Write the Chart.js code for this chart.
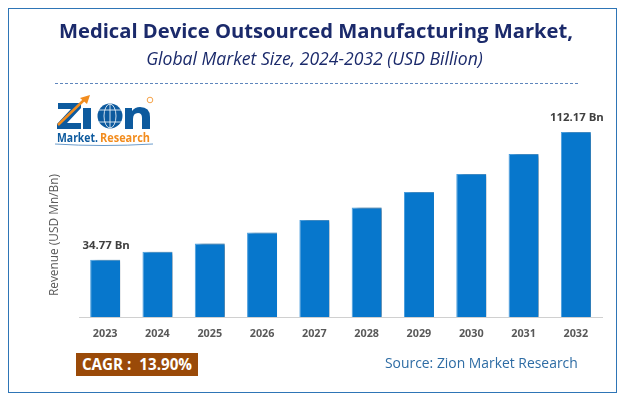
<!DOCTYPE html>
<html>
<head>
<meta charset="utf-8">
<script src="https://cdn.jsdelivr.net/npm/chart.js@4"></script>
<style>
    html, body { margin: 0; padding: 0; background: #fff; }
    #page { position: relative; width: 625px; height: 401px; overflow: hidden; font-family: "Open Sans", sans-serif; }
    #page div, #page svg { position: absolute; white-space: nowrap; }
    #myChart { position: absolute; left: 0; top: 0; }
    #frame { left: 8px; top: 8px; width: 607px; height: 383px; border: 1.5px solid #2e75b6; }
    #title { left: 0; top: 16px; width: 632px; text-align: center; font-size: 20.2px; font-weight: 700; color: #1b2a6b; }
    #subtitle { left: 0; top: 46px; width: 629px; text-align: center; font-size: 17.6px; font-style: italic; color: #1b2a6b; }
    #rule { left: 55px; top: 83px; width: 523px; border-top: 1px dashed #5f86bd; }
    #yTitle { left: 53px; top: 235px; font-size: 11.9px; color: #595959; transform: translate(-50%, -50%) rotate(-90deg); }
    #cagr { left: 76px; top: 353px; width: 122px; height: 23px; line-height: 23px; text-align: center; background: #9a4a08; color: #fff; font-size: 15.2px; font-weight: 700; }
    #source { left: 385px; top: 353px; font-size: 13.9px; color: #2e6ca4; }
</style>
</head>
<body>
<div id="page">
    <canvas id="myChart" width="625" height="401"></canvas>
    <div id="frame"></div>
    <div id="title">Medical Device Outsourced Manufacturing Market,</div>
    <div id="subtitle">Global Market Size, 2024-2032 (USD Billion)</div>
    <div id="rule"></div>
    <svg style="left:50px;top:92px" width="110" height="56" viewBox="0 0 110 56">
        <path d="M8 11H31V16L17 31H31V37H7V32L21 17H8Z" fill="#0d5a9e"/>
        <rect x="33" y="16" width="8" height="21" fill="#0d5a9e"/>
        <circle cx="60" cy="24" r="12.5" fill="#0d5a9e"/>
        <ellipse cx="60" cy="24" rx="6" ry="12" fill="none" stroke="#fff" stroke-width="0.8"/>
        <path d="M48 18H72M48 30H72M60 12V36" stroke="#fff" stroke-width="0.8"/>
        <path d="M75 37V16H82V19Q85 15 90 15Q100 15 100 25V37H92V26Q92 21 88 21Q83 21 83 27V37Z" fill="#0d5a9e"/>
        <path d="M8 33L34 8" stroke="#f28c1e" stroke-width="2.5"/>
        <path d="M40 3L37 12L30 6Z" fill="#f28c1e"/>
        <circle cx="100" cy="8" r="2.8" fill="none" stroke="#f5a34a" stroke-width="1"/>
        <text x="7" y="50" font-family="Open Sans" font-weight="700" font-size="11.5" fill="#0d5a9e" textLength="41" lengthAdjust="spacingAndGlyphs">Market.</text>
        <text x="50" y="50" font-family="Open Sans" font-weight="700" font-size="11.5" fill="#f28c1e" textLength="50" lengthAdjust="spacingAndGlyphs">Research</text>
        <path d="M5 52Q52 55 103 52" fill="none" stroke="#6b9ccb" stroke-width="1"/>
    </svg>
    <div id="yTitle">Revenue (USD Mn/Bn)</div>
    <div id="cagr">CAGR :&nbsp; 13.90%</div>
    <div id="source">Source: Zion Market Research</div>
</div>
<script>
const years = ["2023", "2024", "2025", "2026", "2027", "2028", "2029", "2030", "2031", "2032"];
const revenue = [34.77, 39.5, 44.6, 51.2, 58.8, 66.4, 75.8, 86.7, 98.8, 112.17];
const valueLabels = ["34.77 Bn", "", "", "", "", "", "", "", "", "112.17 Bn"];

// soft grey shadow on the right side of each bar
const barShadow = {
    id: "barShadow",
    beforeDatasetsDraw(chart) {
        const ctx = chart.ctx;
        ctx.save();
        ctx.shadowColor = "rgba(0, 0, 0, 0.55)";
        ctx.shadowBlur = 4;
        ctx.shadowOffsetX = 5;
        ctx.shadowOffsetY = 1;
    },
    afterDatasetsDraw(chart) {
        chart.ctx.restore();
    }
};

const barLabels = {
    id: "barLabels",
    afterDraw(chart) {
        const ctx = chart.ctx;
        const bars = chart.getDatasetMeta(0).data;
        ctx.save();
        ctx.font = "700 11.4px 'Open Sans'";
        ctx.fillStyle = "#404040";
        ctx.textAlign = "center";
        bars.forEach((bar, i) => {
            if (valueLabels[i]) {
                ctx.fillText(valueLabels[i], bar.x + 1, bar.y - 10.5);
            }
        });
        ctx.restore();
    }
};

const myChart = new Chart(document.getElementById("myChart"), {
    type: "bar",
    data: {
        labels: years,
        datasets: [{
            data: revenue,
            backgroundColor: "#0777cc",
            borderColor: "#4a9ede",
            borderWidth: { top: 1, left: 1, right: 0, bottom: 0 },
            barPercentage: 0.573,
            categoryPercentage: 1
        }]
    },
    options: {
        responsive: false,
        animation: false,
        layout: { padding: { left: 79, right: 23, top: 119, bottom: 0 } },
        plugins: { legend: { display: false }, tooltip: { enabled: false } },
        scales: {
            x: {
                afterFit(scale) { scale.height = 84; },
                grid: { display: false, drawTicks: false },
                border: { color: "#d0d0d0", width: 1 },
                ticks: { color: "#595959", font: { family: "Open Sans", size: 10.8, weight: "700" }, padding: 10, maxRotation: 0 }
            },
            y: { display: false, min: 0, max: 120 }
        }
    },
    plugins: [barShadow, barLabels]
});
</script>
</body>
</html>
